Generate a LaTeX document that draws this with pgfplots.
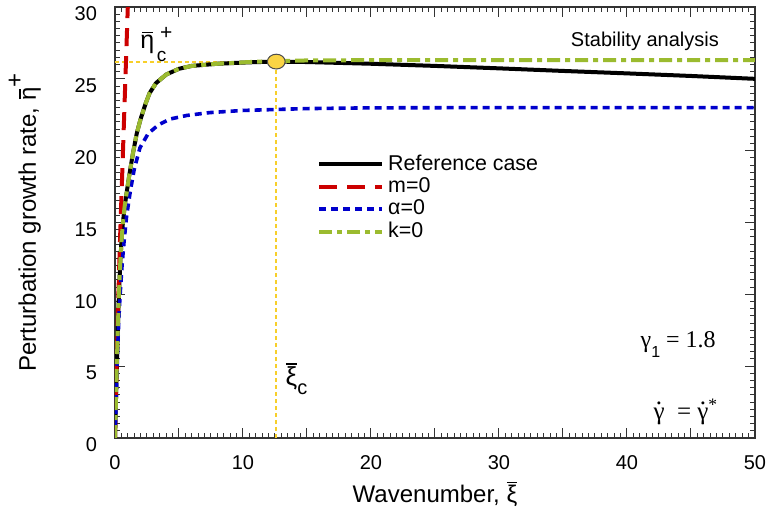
\documentclass[border=0pt]{standalone}
\usepackage{pgfplots}
\pgfplotsset{compat=1.18}
\usetikzlibrary{calc}
\usepackage{fontspec}
\setmainfont{Liberation Sans}
\newfontfamily\seriffont{Liberation Serif}
\definecolor{cred}{HTML}{CC0000}
\definecolor{cblue}{HTML}{0000CC}
\definecolor{cgreen}{HTML}{9BBB2F}
\definecolor{cyel}{HTML}{F7CF2A}
\definecolor{cfill}{HTML}{FAD445}
\newcommand\gdot{\ooalign{γ\cr\hidewidth\raisebox{0.6em}{.}\hidewidth\cr}}
\newcommand\ovl[2][0.78em]{\ooalign{#2\cr\hidewidth\raisebox{#1}{\rule{0.42em}{0.06em}}\hidewidth\cr}}
\begin{document}
\begin{tikzpicture}
\begin{axis}[
  name=ax,
  scale only axis,
  width=320pt, height=215.5pt,
  xmin=0, xmax=50, ymin=0, ymax=30,
  xtick={0,10,...,50}, ytick={0,5,...,30},
  extra x ticks={5,15,25,35,45},
  extra x tick labels={},
  extra x tick style={grid=none},
  minor x tick num=19,
  minor y tick num=9,
  tick align=inside,
  major tick length=5pt,
  minor tick length=2.5pt,
  every tick/.style={black!80, line width=0.5pt},
  axis line style={black!80, line width=0.8pt},
  /pgf/number format/assume math mode=true,
  tick label style={font=\fontsize{10}{11}\selectfont},
  xticklabel style={yshift=-5pt},
  yticklabel style={xshift=-5.5pt, yshift=-3.5pt},
  xlabel={Wavenumber, \ovl{ξ}},
  ylabel={Perturbation growth rate, \ovl[0.62em]{η}\raisebox{0.55em}{\fontsize{12}{12}\selectfont +}},
  label style={font=\fontsize{12}{13}\selectfont},
  xlabel style={at={(axis description cs:0.5,-0.132)}, anchor=center},
  ylabel style={at={(axis description cs:-0.141,0.5)}, anchor=center, rotate=0},
  legend style={at={(axis cs:15.3,20.3)}, anchor=north west, draw=none, fill=none,
    font=\fontsize{10.7}{12}\selectfont, row sep=-1.8pt,
    /tikz/every even column/.append style={column sep=0pt}},
  legend cell align=left,
  legend image code/.code={\draw[#1] (0pt,0pt) -- (31.5pt,0pt);},
  clip=true,
]
% guide lines
\addplot[cyel, line width=1pt, dash pattern=on 2pt off 1.5pt, forget plot] coordinates {(0,26.2) (12.6,26.2)};
\addplot[cyel, line width=1pt, dash pattern=on 2pt off 1.5pt, forget plot] coordinates {(12.6,0) (12.6,26.2)};
% reference
\addplot[black, line width=2pt] coordinates {
(0,0) (0.1,3.5) (0.2,7) (0.3,9.8) (0.4,12) (0.5,13.6) (0.6,14.8) (0.75,16.1) (0.9,17)
(1.1,18.2) (1.4,19.8) (1.7,21.2) (2,22.2) (2.4,23.3) (2.7,24) (3.2,24.7) (4,25.3) (5,25.7)
(6,25.9) (8,26.05) (10.5,26.15) (12.6,26.2) (15,26.17) (20,26.05) (25,25.9) (30,25.73)
(35,25.55) (40,25.38) (45,25.2) (50,25.0)};
\addlegendentry{Reference case}
\addplot[cred, line width=2pt, dash pattern=on 9pt off 5pt] coordinates {
(0,0) (0.1,4) (0.25,9.5) (0.4,14) (0.55,18) (0.7,22) (0.85,26) (1.0,30) (1.05,31.3)};
\addlegendentry{m=0}
\addplot[cblue, line width=1.8pt, dash pattern=on 3.5pt off 2.5pt] coordinates {
(0,0) (0.1,3) (0.2,6) (0.3,8.3) (0.4,10) (0.55,12) (0.7,13.6) (0.9,15.4) (1.2,17.2)
(1.5,18.7) (1.95,20.2) (2.6,21.2) (3.4,21.8) (4.3,22.2) (5.6,22.45) (7.4,22.65) (10,22.8)
(15,22.93) (20,22.98) (30,23.0) (50,23.0)};
\addlegendentry{α=0}
\addplot[cgreen, line width=2pt, dash pattern=on 6.5pt off 2.5pt on 2.5pt off 2.5pt] coordinates {
(0,0) (0.1,3.5) (0.2,7) (0.3,9.8) (0.4,12) (0.5,13.6) (0.6,14.8) (0.75,16.1) (0.9,17)
(1.1,18.2) (1.4,19.8) (1.7,21.2) (2,22.2) (2.4,23.3) (2.7,24) (3.2,24.7) (4,25.3) (5,25.7)
(6,25.9) (8,26.05) (10.5,26.17) (12.6,26.24) (15,26.28) (20,26.3) (30,26.3) (50,26.3)};
\addlegendentry{k=0}
% critical point
\addplot[only marks, mark=*, mark size=3.7pt, mark options={fill=cfill, draw=black!70, line width=0.5pt, xscale=1.2}, forget plot] coordinates {(12.6,26.2)};
% annotations
\node[font=\fontsize{10}{11}\selectfont] at (axis cs:41.4,27.6) {Stability analysis};
\node[anchor=base west, font=\fontsize{12.5}{13}\selectfont, inner sep=0pt] at (axis cs:1.95,27.1) {\ovl[0.62em]{η}\kern0.1em\raisebox{-0.5em}{\fontsize{9.5}{9.5}\selectfont c}\kern-0.25em\raisebox{0.35em}{\fontsize{10.5}{10.5}\selectfont +}};
\node[anchor=west, font=\fontsize{13}{14}\selectfont, inner sep=0pt] at (axis cs:13.3,4.0) {\ovl{ξ}\raisebox{-0.35em}{\fontsize{10}{10}\selectfont c}};
\node[font=\fontsize{12}{13}\selectfont\seriffont] at (axis cs:44.0,6.5) {γ\raisebox{-0.4em}{\fontsize{8}{8}\selectfont\rmfamily 1} = 1.8};
\node[font=\fontsize{12.5}{13}\selectfont\seriffont] at (axis cs:44.6,2.0) {\gdot\ \ = \gdot\textsuperscript{*}};
\end{axis}
\pgfresetboundingbox
\path[use as bounding box] ($(ax.south west)+(-57.5pt,-41pt)$) rectangle ($(ax.north east)+(6.5pt,3.5pt)$);
\end{tikzpicture}
\end{document}
